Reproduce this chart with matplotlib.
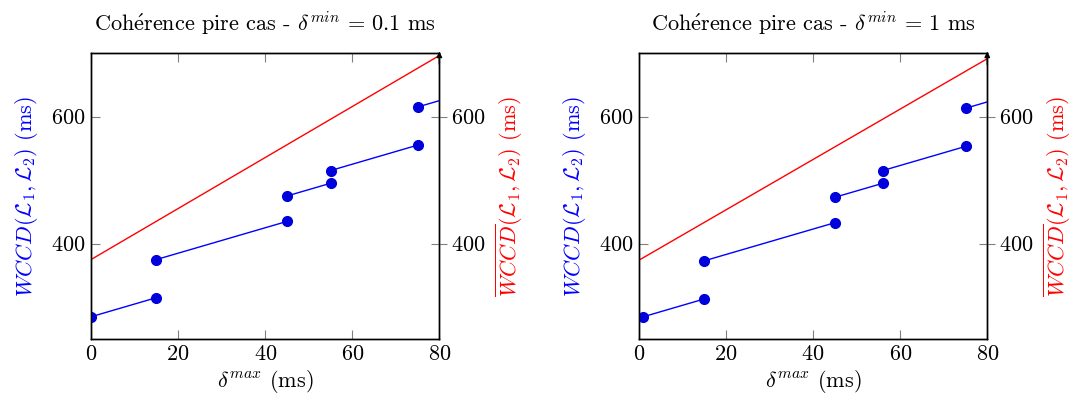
import matplotlib
matplotlib.use("Agg")
import matplotlib.pyplot as plt

plt.rcParams['font.family'] = ['cmr10', 'DejaVu Serif']
plt.rcParams['mathtext.fontset'] = 'cm'
plt.rcParams['axes.formatter.use_mathtext'] = True
plt.rcParams['axes.unicode_minus'] = False

# Left panel (delta_min = 0.1 ms)
x_left = [0, 15, 15, 45, 45, 55, 55, 75, 75, 80]
wccd_left = [285, 315, 375, 435, 475, 495, 515, 555, 615, 625]
bound_x_left = [0, 80]
bound_left = [375, 696]

# Right panel (delta_min = 1 ms)
x_right = [1, 15, 15, 45, 45, 56, 56, 75, 75, 80]
wccd_right = [285, 313, 373, 433, 473, 495, 515, 553, 613, 623]
bound_x_right = [0, 80]
bound_right = [374, 691]

titles = [r"Coh$\acute{\mathrm{e}}$rence pire cas - $\delta^{min}\, =\, 0.1$ ms",
          r"Coh$\acute{\mathrm{e}}$rence pire cas - $\delta^{min}\, =\, 1$ ms"]
xticks = [0, 20, 40, 60, 80]
yticks = [400, 600]

fig = plt.figure(figsize=(10.75, 3.99), dpi=100)
FS = 16
panels = [
    (0.0847, x_left, wccd_left, bound_x_left, bound_left, titles[0]),
    (0.5944, x_right, wccd_right, bound_x_right, bound_right, titles[1]),
]
for left, xs, ys, bx, by, title in panels:
    ax = fig.add_axes([left, 0.1504, 0.3240, 0.7168])
    ax2 = ax.twinx()
    for i in range(0, len(xs), 2):
        ax.plot(xs[i:i+2], ys[i:i+2], color='#0000ff', lw=1.0, zorder=2)
    ax.plot(xs[:-1], ys[:-1], ls='none', marker='o', ms=7, color='#0000dd', zorder=3)
    ax2.plot(bx, by, color='#ff0000', lw=1.0)
    for a in (ax, ax2):
        a.set_xlim(0, 80)
        a.set_ylim(250, 700)
        a.set_yticks(yticks)
        a.tick_params(labelsize=FS, color='#808080')
    ax.set_xticks(xticks)
    ax.tick_params(axis='x', direction='in', length=6.5, top=True, pad=4)
    ax.tick_params(axis='y', direction='in', length=6.5, pad=4)
    ax2.tick_params(axis='y', direction='inout', length=11, pad=3)
    for s in ax.spines.values():
        s.set_linewidth(1.0)
    for s in ax2.spines.values():
        s.set_linewidth(1.0)
    ax2.annotate('', xy=(1, 1.005), xytext=(1, 0.96), xycoords='axes fraction',
                 arrowprops=dict(arrowstyle='-|>', color='black', lw=1.0,
                                 mutation_scale=8, shrinkA=0, shrinkB=0))
    ax.set_title(title, fontsize=FS, pad=16)
    ax.set_xlabel(r"$\delta^{max}$ (ms)", fontsize=FS, labelpad=3)
    ax.set_ylabel(r"$WCCD(\mathcal{L}_1, \mathcal{L}_2)$ (ms)", fontsize=FS,
                  color='#0000ff', labelpad=8)
    ax2.set_ylabel(r"$\overline{WCCD}(\mathcal{L}_1, \mathcal{L}_2)$ (ms)", fontsize=FS,
                   color='#ff0000', rotation=90, labelpad=6)

fig.savefig("out.png", dpi=100)
